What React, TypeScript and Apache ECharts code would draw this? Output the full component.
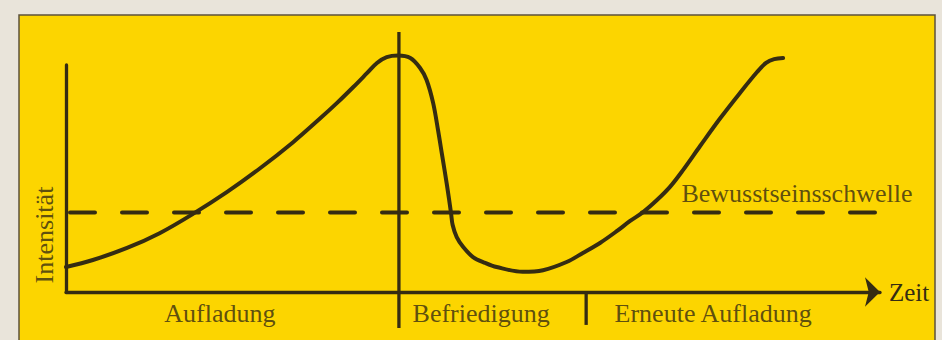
import React, { useEffect, useRef } from "react";
import * as echarts from "echarts";

// Curve: time (0–100 along the Zeit axis) vs. intensity (0–100 up the Intensität axis)
const curveTime = [0, 3.3, 7.5, 11.5, 15.6, 19.8, 23.8, 27.9, 31.2, 33.3, 35.3, 37.0, 38.2, 39.4, 40.8, 42.3, 43.5, 44.3, 45.1, 45.7, 46.2, 46.8, 47.3, 47.5, 48.0, 48.8, 50.0, 51.5, 52.9, 56.1, 58.6, 61.5, 63.5, 65.6, 67.7, 69.3, 70.9, 72.6, 74.2, 75.8, 77.9, 80.3, 82.8, 84.9, 86.0, 87.0, 88.1];
const curveIntensity = [11.0, 14.1, 19.4, 25.9, 34.4, 44.1, 54.4, 66.0, 76.4, 83.3, 90.3, 96.5, 100.9, 103.5, 104.2, 103.1, 98.7, 93.4, 83.3, 71.4, 60.4, 47.1, 34.8, 29.5, 24.2, 19.8, 15.4, 12.8, 11.0, 8.9, 9.6, 13.2, 17.2, 21.6, 26.9, 31.3, 35.2, 40.5, 46.3, 53.7, 64.3, 76.2, 87.7, 96.9, 100.9, 102.6, 103.1];

// Threshold (Bewusstseinsschwelle)
const thresholdValue = 35;
const thresholdLabel = "Bewusstseinsschwelle";
const thresholdLabelPos = [75.6, 43.6];

// Phase dividers
const dividerTime = [40.9, 63.9];
const dividerTop = [114.5, 0];
const dividerBottom = [-15.9, -14.5];

// Phase labels
const phaseLabels = ["Aufladung", "Befriedigung", "Erneute Aufladung"];
const phaseLabelTime = [18.9, 51.0, 79.5];
const phaseLabelIntensity = -9.3;

// Axis titles
const xAxisTitle = "Zeit";
const yAxisTitle = "Intensität";
const yAxisTitlePos = [-2.7, 25.1];

const INK = "#352c12";
const FONT = "'Liberation Serif', 'Times New Roman', serif";

export default function App() {
  const ref = useRef<HTMLDivElement>(null);

  useEffect(() => {
    if (!ref.current) return;
    const chart = echarts.init(ref.current, undefined, { renderer: "svg" });

    const labelData: any[] = phaseLabels.map((name, i) => ({
      name,
      value: [phaseLabelTime[i], phaseLabelIntensity],
    }));
    labelData.push({
      name: thresholdLabel,
      value: thresholdLabelPos,
      label: { align: "left" },
    });
    labelData.push({
      name: yAxisTitle,
      value: yAxisTitlePos,
      label: { rotate: 90 },
    });

    const dividerSeries = dividerTime.map((t, i) => ({
      type: "line",
      data: [
        [t, dividerTop[i]],
        [t, dividerBottom[i]],
      ],
      showSymbol: false,
      symbol: "none",
      clip: false,
      silent: true,
      lineStyle: { color: INK, width: 3.3 },
      z: 3,
    }));

    chart.setOption({
      animation: false,
      backgroundColor: "transparent",
      graphic: [
        {
          type: "rect",
          shape: { x: 19, y: 15, width: 916, height: 335 },
          style: { fill: "#fcd500", stroke: "#5c513c", lineWidth: 1.5 },
          z: -10,
          silent: true,
        },
      ],
      grid: { left: 66, right: 62, top: 65, bottom: 48, containLabel: false },
      xAxis: {
        type: "value",
        min: 0,
        max: 100,
        name: xAxisTitle,
        nameLocation: "end",
        nameGap: 9,
        nameTextStyle: { fontFamily: FONT, fontSize: 25, color: INK, verticalAlign: "middle" },
        axisLine: {
          show: true,
          symbol: ["none", "arrow"],
          symbolSize: [22, 15],
          lineStyle: { color: INK, width: 3.3 },
        },
        axisTick: { show: false },
        axisLabel: { show: false },
        splitLine: { show: false },
      },
      yAxis: {
        type: "value",
        min: 0,
        max: 100,
        axisLine: { show: true, lineStyle: { color: INK, width: 3.3 } },
        axisTick: { show: false },
        axisLabel: { show: false },
        splitLine: { show: false },
      },
      series: [
        {
          type: "line",
          data: [
            [0, thresholdValue],
            [100, thresholdValue],
          ],
          showSymbol: false,
          symbol: "none",
          silent: true,
          lineStyle: { color: INK, width: 4, type: [25, 27], cap: "round", dashOffset: -4 },
          z: 2,
        },
        ...dividerSeries,
        {
          type: "line",
          data: curveTime.map((t, i) => [t, curveIntensity[i]]),
          smooth: 0.35,
          showSymbol: false,
          symbol: "none",
          clip: false,
          silent: true,
          lineStyle: { color: INK, width: 4, cap: "round", join: "round" },
          z: 4,
        },
        {
          type: "scatter",
          data: labelData,
          symbolSize: 0,
          clip: false,
          silent: true,
          label: {
            show: true,
            position: "inside",
            formatter: "{b}",
            fontFamily: FONT,
            fontSize: 26,
            color: INK,
            align: "center",
            verticalAlign: "middle",
          },
          z: 5,
        },
      ],
    });

    return () => chart.dispose();
  }, []);

  return (
    <div
      ref={ref}
      style={{
        position: "fixed",
        left: 0,
        top: 0,
        width: 942,
        height: 340,
        background: "#e9e4da",
      }}
    />
  );
}
